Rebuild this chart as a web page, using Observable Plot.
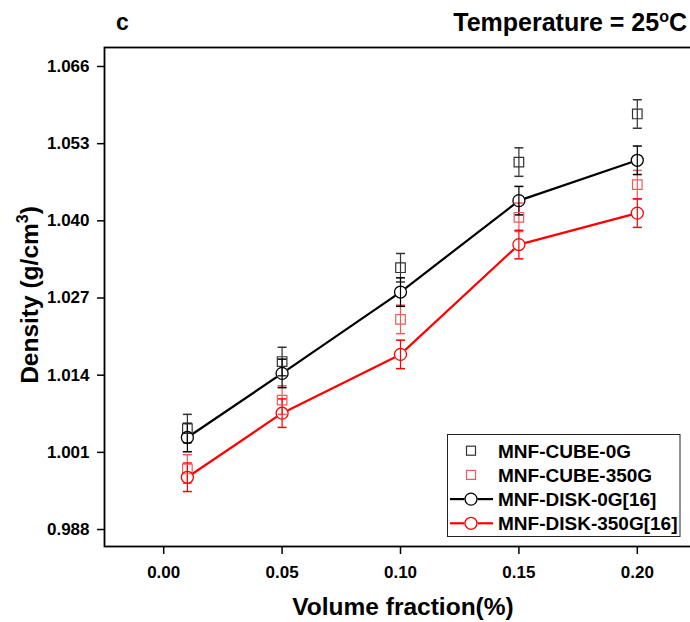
<!DOCTYPE html>
<html>
<head>
<meta charset="utf-8">
<script src="https://cdn.jsdelivr.net/npm/d3@7"></script>
<script src="https://cdn.jsdelivr.net/npm/@observablehq/plot@0.6"></script>
<style>
  html, body { margin: 0; padding: 0; background: #fff; overflow: hidden; }
  #chart { width: 690px; height: 622px; }
</style>
</head>
<body>
<div id="chart"></div>
<script>
// ---- data ----
const volumeFraction = [0.01, 0.05, 0.10, 0.15, 0.20];
const cube0G   = [1.0050, 1.0163, 1.0321, 1.0499, 1.0580];
const cube350G = [0.9982, 1.0098, 1.0234, 1.0406, 1.0461];
const disk0G   = [1.0035, 1.0143, 1.0280, 1.0434, 1.0502];
const disk350G = [0.9968, 1.0076, 1.0175, 1.0360, 1.0413];
const errCube0G   = [0.0024, 0.0024, 0.0024, 0.0024, 0.0024];
const errCube350G = [0.0024, 0.0024, 0.0024, 0.0024, 0.0024];
const errDisk0G   = [0.0024, 0.0024, 0.0024, 0.0024, 0.0024];
const errDisk350G = [0.0024, 0.0024, 0.0024, 0.0024, 0.0024];
const seriesNames = ["MNF-CUBE-0G", "MNF-CUBE-350G", "MNF-DISK-0G[16]", "MNF-DISK-350G[16]"];
const xTicks = [0.00, 0.05, 0.10, 0.15, 0.20];
const yTicks = [0.988, 1.001, 1.014, 1.027, 1.040, 1.053, 1.066];

// ---- build table ----
const seriesValues = [cube0G, cube350G, disk0G, disk350G];
const seriesErrs = [errCube0G, errCube350G, errDisk0G, errDisk350G];
const rows = seriesNames.flatMap((name, s) =>
  volumeFraction.map((x, i) => ({
    series: name, x, y: seriesValues[s][i],
    lo: seriesValues[s][i] - seriesErrs[s][i],
    hi: seriesValues[s][i] + seriesErrs[s][i]
  })));
const sel = name => rows.filter(d => d.series === name);

const colors = {
  "MNF-CUBE-0G": "#333333",
  "MNF-CUBE-350G": "#f25a5a",
  "MNF-DISK-0G[16]": "#000000",
  "MNF-DISK-350G[16]": "#ff0000"
};

const capSymbol = {
  draw(ctx, size) {
    const w = Math.sqrt(size / Math.PI);
    ctx.moveTo(-w, 0); ctx.lineTo(w, 0);
  }
};

function errMarks(name) {
  const d = sel(name), c = colors[name];
  return [
    Plot.ruleX(d, {x: "x", y1: "lo", y2: "hi", stroke: c, strokeWidth: 1.2}),
    Plot.dot(d, {x: "x", y: "lo", symbol: capSymbol, r: 4.5, stroke: c, fill: "none", strokeWidth: 1.5}),
    Plot.dot(d, {x: "x", y: "hi", symbol: capSymbol, r: 4.5, stroke: c, fill: "none", strokeWidth: 1.5})
  ];
}

const FONT = "'Liberation Sans', Arial, Helvetica, sans-serif";

const chart = Plot.plot({
  width: 690,
  height: 622,
  marginTop: 47,
  marginBottom: 76,
  marginLeft: 104,
  marginRight: -6,
  style: {fontFamily: FONT, fontSize: "17px", fontWeight: "bold", color: "black", background: "white", overflow: "visible"},
  x: {domain: [-0.025, 0.225], ticks: xTicks, tickFormat: d3.format(".2f"), label: null, tickSize: 8, tickPadding: 11},
  y: {domain: [0.98514, 1.0692], ticks: yTicks, tickFormat: d3.format(".3f"), label: null, tickSize: 7, tickPadding: 8},
  marks: [
    Plot.line(sel("MNF-DISK-0G[16]"), {x: "x", y: "y", stroke: colors["MNF-DISK-0G[16]"], strokeWidth: 2.2}),
    Plot.line(sel("MNF-DISK-350G[16]"), {x: "x", y: "y", stroke: colors["MNF-DISK-350G[16]"], strokeWidth: 2.2}),
    Plot.dot(sel("MNF-DISK-0G[16]"), {x: "x", y: "y", r: 6.5, fill: "white", stroke: "none"}),
    Plot.dot(sel("MNF-DISK-350G[16]"), {x: "x", y: "y", r: 6.5, fill: "white", stroke: "none"}),
    ...errMarks("MNF-CUBE-350G"),
    ...errMarks("MNF-CUBE-0G"),
    ...errMarks("MNF-DISK-350G[16]"),
    ...errMarks("MNF-DISK-0G[16]"),
    Plot.dot(sel("MNF-CUBE-350G"), {x: "x", y: "y", symbol: "square", r: 5.4, fill: "none", stroke: colors["MNF-CUBE-350G"], strokeWidth: 1.2}),
    Plot.dot(sel("MNF-CUBE-0G"), {x: "x", y: "y", symbol: "square", r: 5.4, fill: "none", stroke: colors["MNF-CUBE-0G"], strokeWidth: 1.2}),
    Plot.dot(sel("MNF-DISK-350G[16]"), {x: "x", y: "y", r: 6, fill: "none", stroke: colors["MNF-DISK-350G[16]"], strokeWidth: 1.3}),
    Plot.dot(sel("MNF-DISK-0G[16]"), {x: "x", y: "y", r: 6, fill: "none", stroke: colors["MNF-DISK-0G[16]"], strokeWidth: 1.3}),
    Plot.frame({stroke: "black", strokeWidth: 1.8})
  ]
});

document.getElementById("chart").appendChild(chart);

const svg = d3.select(chart);
// axis styling: every text so far is a tick label
svg.selectAll("g").filter(function() { return this.hasAttribute("font-size"); }).attr("font-size", 17);
svg.selectAll("text")
  .attr("font-size", 17)
  .style("font-size", "17px").style("font-weight", "bold").style("font-family", FONT);
svg.selectAll("g[aria-label$='axis'] line, g[aria-label$='axis'] path, g[aria-label$='axis tick'] path, g[aria-label$='axis tick'] line")
  .attr("stroke-width", 1.5);

// ---- titles and axis labels ----
svg.append("text")
  .attr("x", 116).attr("y", 30)
  .attr("text-anchor", "start")
  .attr("font-family", FONT).attr("font-weight", "bold").attr("font-size", 23)
  .attr("fill", "black")
  .text("c");

const temp = svg.append("text")
  .attr("x", 687).attr("y", 31)
  .attr("text-anchor", "end")
  .attr("font-family", FONT).attr("font-weight", "bold").attr("font-size", 25)
  .attr("fill", "black");
temp.append("tspan").text("Temperature = 25");
temp.append("tspan").attr("font-size", 16).attr("dy", -9).text("o");
temp.append("tspan").attr("dy", 9).text("C");

svg.append("text")
  .attr("x", 403).attr("y", 615)
  .attr("text-anchor", "middle")
  .attr("font-family", FONT).attr("font-weight", "bold").attr("font-size", 24.5)
  .attr("fill", "black")
  .text("Volume fraction(%)");

const ylab = svg.append("text")
  .attr("transform", "translate(38,295) rotate(-90)")
  .attr("text-anchor", "middle")
  .attr("font-family", FONT).attr("font-weight", "bold").attr("font-size", 24.5)
  .attr("fill", "black");
ylab.append("tspan").text("Density (g/cm");
ylab.append("tspan").attr("font-size", 16).attr("dy", -10).text("3");
ylab.append("tspan").attr("dy", 10).text(")");

// ---- legend ----
const lg = svg.append("g").attr("font-family", FONT).attr("font-weight", "bold").attr("font-size", 19).attr("text-anchor", "start");
lg.append("rect").attr("x", 447.5).attr("y", 434.5).attr("width", 232.5).attr("height", 102)
  .attr("fill", "white").attr("stroke", "#222").attr("stroke-width", 1);
const legendRows = [
  {name: seriesNames[0], kind: "square"},
  {name: seriesNames[1], kind: "square"},
  {name: seriesNames[2], kind: "circle"},
  {name: seriesNames[3], kind: "circle"}
];
legendRows.forEach((r, i) => {
  const cy = 450.7 + i * 24.2;
  const c = colors[r.name];
  if (r.kind === "circle") {
    lg.append("line").attr("x1", 450).attr("x2", 464.5).attr("y1", cy).attr("y2", cy).attr("stroke", c).attr("stroke-width", 2.2);
    lg.append("line").attr("x1", 477.5).attr("x2", 493).attr("y1", cy).attr("y2", cy).attr("stroke", c).attr("stroke-width", 2.2);
    lg.append("circle").attr("cx", 471).attr("cy", cy).attr("r", 6).attr("fill", "none").attr("stroke", c).attr("stroke-width", 1.3);
  } else {
    lg.append("rect").attr("x", 466.5).attr("y", cy - 4.5).attr("width", 9).attr("height", 9).attr("fill", "none").attr("stroke", c).attr("stroke-width", 1.2);
  }
  lg.append("text").attr("x", 498).attr("y", cy).attr("dy", "0.36em").attr("text-anchor", "start").attr("fill", "black").text(r.name);
});
</script>
</body>
</html>
